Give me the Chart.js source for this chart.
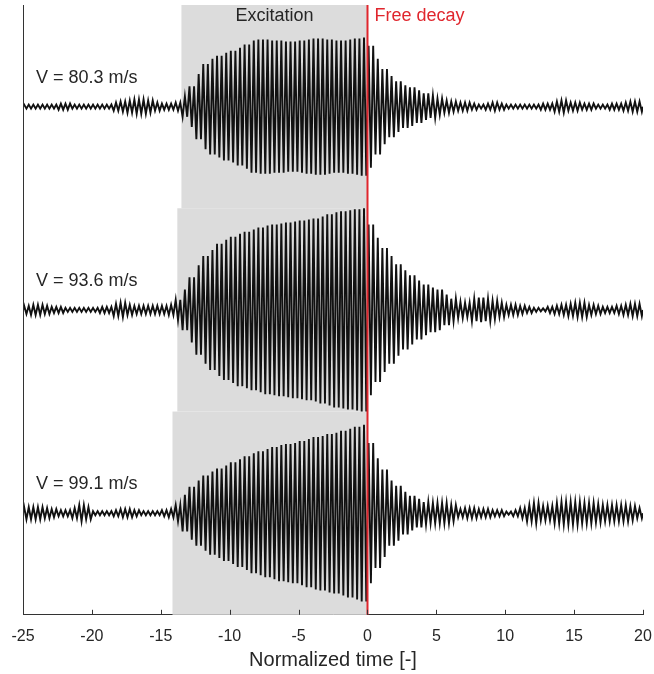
<!DOCTYPE html>
<html>
<head>
<meta charset="utf-8">
<script src="https://cdn.jsdelivr.net/npm/chart.js@4.4.1/dist/chart.umd.min.js"></script>
<style>
  html, body { margin: 0; padding: 0; background: #fff; }
</style>
</head>
<body>
<canvas id="myChart" width="654" height="674"></canvas>
<script>
/* Signal envelopes, one value per 0.5 of normalized time (-25 .. 19.5) */
const speeds = ['V = 80.3 m/s', 'V = 93.6 m/s', 'V = 99.1 m/s'];
const offsets = [5, 3, 1];                 // baseline of each trace
const excStart = [-13.5, -13.8, -14.15];   // start of the shaded excitation window
const tStart = -25, tStep = 0.5;
const xTicks = [-25, -20, -15, -10, -5, 0, 5, 10, 15, 20];

const amp80 = [
  0.02, 0.02, 0.02, 0.02, 0.02, 0.03, 0.03, 0.02, 0.02, 0.02,
  0.02, 0.02, 0.02, 0.04, 0.05, 0.06, 0.07, 0.07, 0.06, 0.04,
  0.03, 0.03, 0.04, 0.10, 0.20, 0.32, 0.42, 0.47, 0.50, 0.53,
  0.55, 0.58, 0.61, 0.65, 0.66, 0.66, 0.65, 0.65, 0.64, 0.64,
  0.65, 0.66, 0.67, 0.67, 0.66, 0.65, 0.65, 0.66, 0.67, 0.68,
  0.60, 0.47, 0.37, 0.30, 0.25, 0.21, 0.19, 0.16, 0.13, 0.11,
  0.08, 0.06, 0.05, 0.04, 0.04, 0.03, 0.02, 0.03, 0.04, 0.03,
  0.02, 0.02, 0.02, 0.02, 0.02, 0.03, 0.03, 0.05, 0.06, 0.04,
  0.04, 0.03, 0.03, 0.02, 0.02, 0.03, 0.03, 0.04, 0.05, 0.05
];
const amp93 = [
  0.04, 0.05, 0.05, 0.04, 0.03, 0.03, 0.02, 0.02, 0.02, 0.02,
  0.02, 0.03, 0.03, 0.06, 0.07, 0.05, 0.04, 0.04, 0.04, 0.04,
  0.04, 0.05, 0.10, 0.20, 0.32, 0.44, 0.53, 0.59, 0.65, 0.69,
  0.72, 0.75, 0.77, 0.79, 0.81, 0.83, 0.84, 0.85, 0.86, 0.87,
  0.88, 0.89, 0.90, 0.92, 0.94, 0.96, 0.97, 0.98, 0.99, 1.00,
  0.84, 0.71, 0.61, 0.53, 0.45, 0.39, 0.34, 0.29, 0.25, 0.22,
  0.20, 0.15, 0.11, 0.08, 0.07, 0.11, 0.12, 0.11, 0.09, 0.07,
  0.05, 0.05, 0.04, 0.03, 0.02, 0.015, 0.03, 0.04, 0.05, 0.06,
  0.07, 0.07, 0.05, 0.04, 0.03, 0.03, 0.04, 0.05, 0.06, 0.06
];
const amp99 = [
  0.06, 0.06, 0.06, 0.05, 0.04, 0.03, 0.03, 0.05, 0.08, 0.06,
  0.02, 0.02, 0.02, 0.03, 0.04, 0.04, 0.03, 0.02, 0.02, 0.02,
  0.03, 0.04, 0.08, 0.18, 0.26, 0.32, 0.37, 0.41, 0.44, 0.47,
  0.50, 0.53, 0.56, 0.59, 0.61, 0.63, 0.65, 0.67, 0.68, 0.69,
  0.71, 0.73, 0.75, 0.76, 0.78, 0.79, 0.81, 0.83, 0.85, 0.87,
  0.69, 0.54, 0.43, 0.32, 0.27, 0.21, 0.17, 0.14, 0.11, 0.10,
  0.10, 0.10, 0.08, 0.04, 0.05, 0.05, 0.04, 0.04, 0.03, 0.03,
  0.015, 0.03, 0.05, 0.08, 0.10, 0.07, 0.07, 0.10, 0.11, 0.11,
  0.11, 0.10, 0.10, 0.09, 0.08, 0.08, 0.08, 0.08, 0.07, 0.05
];

// each half-unit sample carries three alternating peaks of the oscillation
function trace(amp, base){
  const pts = [{x: tStart, y: base}];
  amp.forEach(function(a, i){
    for(let j = 0; j < 3; j++){
      const k = 3 * i + j;
      pts.push({x: tStart + i * tStep + (2 * j + 1) * tStep / 6, y: base + (k % 2 ? -a : a)});
    }
  });
  pts.push({x: tStart + amp.length * tStep, y: base});
  return pts;
}

const FONT = '"Liberation Sans", Arial, sans-serif';

const decor = {
  id: 'decor',
  beforeDatasetsDraw: chart => {
    const ctx = chart.ctx, xs = chart.scales.x, ys = chart.scales.y;
    ctx.save();
    ctx.fillStyle = '#dcdcdc';
    offsets.forEach((b, k) => {
      const x0 = xs.getPixelForValue(excStart[k]), x1 = xs.getPixelForValue(0);
      const y0 = ys.getPixelForValue(b + 1), y1 = ys.getPixelForValue(b - 1);
      ctx.fillRect(x0, y0, x1 - x0, y1 - y0);
    });
    ctx.restore();
  },
  afterDatasetsDraw: chart => {
    const ctx = chart.ctx, xs = chart.scales.x, ys = chart.scales.y;
    const area = chart.chartArea;
    ctx.save();
    // free decay onset
    const x0 = Math.round(xs.getPixelForValue(0)) + 0.5;
    ctx.strokeStyle = '#e0262d';
    ctx.lineWidth = 2;
    ctx.beginPath(); ctx.moveTo(x0, area.top); ctx.lineTo(x0, area.bottom); ctx.stroke();
    // axes
    ctx.strokeStyle = '#333';
    ctx.lineWidth = 1;
    ctx.beginPath();
    ctx.moveTo(Math.round(area.left) + 0.5, area.top);
    ctx.lineTo(Math.round(area.left) + 0.5, area.bottom);
    ctx.stroke();
    xTicks.slice(1).forEach(v => {
      const x = Math.round(xs.getPixelForValue(v)) + 0.5;
      ctx.beginPath(); ctx.moveTo(x, area.bottom); ctx.lineTo(x, area.bottom - 5); ctx.stroke();
    });
    // labels
    ctx.font = '18px ' + FONT;
    ctx.textBaseline = 'middle';
    ctx.fillStyle = '#262626';
    ctx.textAlign = 'center';
    ctx.fillText('Excitation', (xs.getPixelForValue(excStart[0]) + xs.getPixelForValue(0)) / 2, 16);
    ctx.textAlign = 'left';
    speeds.forEach((s, k) => {
      ctx.fillText(s, 36, ys.getPixelForValue(offsets[k]) - 29);
    });
    ctx.fillStyle = '#e0262d';
    ctx.fillText('Free decay', x0 + 7, 16);
    ctx.restore();
  }
};

const ctx = document.getElementById('myChart');
const myChart = new Chart(ctx, {
  type: 'line',
  plugins: [decor],
  data: {
    datasets: [amp80, amp93, amp99].map((a, k) => ({
      data: trace(a, offsets[k]),
      borderColor: '#111',
      borderWidth: 1.9,
      pointRadius: 0,
      tension: 0,
      fill: false
    }))
  },
  options: {
    responsive: false,
    animation: false,
    events: [],
    layout: { padding: { left: 23, right: 11, top: 5, bottom: 0 } },
    plugins: { legend: false, tooltip: false },
    scales: {
      x: {
        type: 'linear',
        min: -25, max: 20,
        afterBuildTicks: axis => { axis.ticks = xTicks.map(v => ({value: v})); },
        grid: { display: false, drawTicks: true, tickLength: 12 },
        border: { display: true, color: '#333', width: 1 },
        ticks: { padding: 0, color: '#262626', font: { family: FONT, size: 16 } },
        title: {
          display: true,
          text: 'Normalized time [-]',
          color: '#262626',
          font: { family: FONT, size: 20 },
          padding: { top: 2, bottom: 2 }
        }
      },
      y: {
        display: false,
        min: 0, max: 6
      }
    }
  }
});
</script>
</body>
</html>
